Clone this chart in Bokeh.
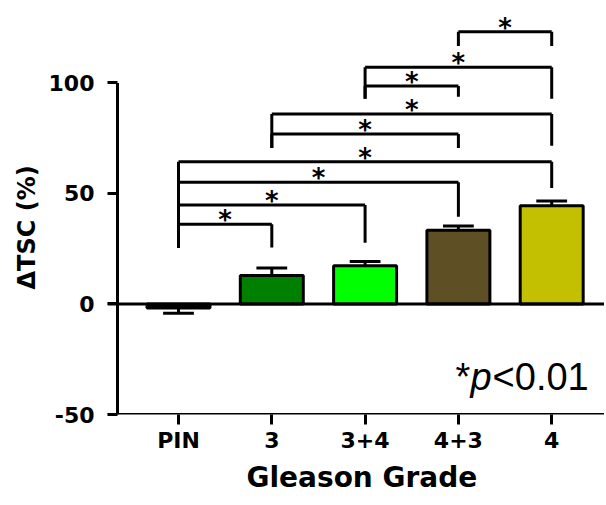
import numpy as np
from bokeh.plotting import figure
from bokeh.models import Range1d, FixedTicker, Span, Label, Title
from bokeh.core.properties import value
from bokeh.embed import file_html
from bokeh.resources import INLINE

# ---------------- data ----------------
categories = ["PIN", "3", "3+4", "4+3", "4"]
means = [-1.8, 12.9, 17.3, 33.4, 44.4]
sems = [2.4, 3.4, 1.9, 1.9, 2.2]
bar_colors = ["#000000", "#008000", "#00FF00", "#5F4F25", "#C2C000"]
y_ticks = [-50, 0, 50, 100]
y_tick_labels = ["-50", "0", "50", "100"]
x_title = "Gleason Grade"
y_title = "\u0394TSC (%)"

# significance brackets (category indices and heights in % units)
br_left = [0, 0, 0, 0, 1, 1, 2, 2, 3]
br_right = [1, 2, 3, 4, 3, 4, 3, 4, 4]
br_top = [36.1, 44.8, 55.1, 64.4, 76.9, 86.0, 98.6, 107.1, 123.2]
br_left_end = [25.3, 25.3, 25.3, 25.3, 70.6, 70.6, 92.8, 92.8, 116.7]
br_right_end = [25.5, 27.7, 39.5, 52.5, 70.6, 71.6, 93.8, 92.8, 116.7]
br_text = ["*"] * 9

# ---------------- layout ----------------
W, H = 604, 503
ML, MB = 107, 89
x_start, x_end = -0.761, 4.566
y_start, y_end = -50, 137.3

p = figure(width=W, height=H, x_range=Range1d(x_start, x_end), y_range=Range1d(y_start, y_end),
           output_backend="svg", toolbar_location=None,
           min_border_left=ML, min_border_right=0, min_border_top=0, min_border_bottom=MB)
p.outline_line_color = None
p.xgrid.visible = False
p.ygrid.visible = False
p.background_fill_color = "white"

xs = np.arange(len(categories), dtype=float)
m = np.array(means)
s = np.array(sems)
tips = m + np.sign(m) * s

BOLD = "DejaVu Sans"

# x axis
xa = p.xaxis[0]
xa.ticker = FixedTicker(ticks=list(xs))
xa.major_label_overrides = {i: c for i, c in enumerate(categories)}
xa.axis_line_color = None
xa.major_tick_line_width = 3
xa.major_tick_out = 10
xa.major_tick_in = 0
xa.minor_tick_line_color = None
xa.major_label_text_font = BOLD
xa.major_label_text_font_style = "bold"
xa.major_label_text_font_size = "22px"
xa.major_label_text_color = "black"
xa.major_label_standoff = 3
p.add_layout(Span(location=y_start, dimension="width", line_color="black", line_width=3))

# y axis (line drawn separately, ticks point into the frame like the original)
ya = p.yaxis[0]
ya.ticker = FixedTicker(ticks=y_ticks)
ya.major_label_overrides = {t: l for t, l in zip(y_ticks, y_tick_labels)}
ya.axis_line_color = None
ya.major_tick_line_width = 3
ya.major_tick_in = 10
ya.major_tick_out = 0
ya.minor_tick_line_color = None
ya.major_label_text_font = BOLD
ya.major_label_text_font_style = "bold"
ya.major_label_text_font_size = "22px"
ya.major_label_text_color = "black"
ya.major_label_standoff = 13

frame_w = W - ML
axis_x = x_start + 10 * (x_end - x_start) / frame_w
p.segment(x0=[axis_x], y0=[y_ticks[0]], x1=[axis_x], y1=[y_ticks[-1]], line_color="black", line_width=3)

# axis titles as side titles (off-centre like the original)
p.add_layout(Title(text=x_title, align="left", offset=139, vertical_align="top", standoff=10,
                   text_font=BOLD, text_font_style="bold", text_font_size="28px",
                   text_color="black"), "below")
p.add_layout(Title(text=y_title, align="left", offset=125, standoff=10,
                   text_font=BOLD, text_font_style="bold", text_font_size="24px",
                   text_color="black"), "left")

# bars
p.vbar(x=xs, top=m, bottom=0, width=0.675, fill_color=bar_colors, line_color="black", line_width=3)

# zero line
p.add_layout(Span(location=0, dimension="width", line_color="black", line_width=3))

# error bars (one-sided)
p.segment(x0=xs, y0=m, x1=xs, y1=tips, line_color="black", line_width=3)
p.segment(x0=xs - 0.165, y0=tips, x1=xs + 0.165, y1=tips, line_color="black", line_width=3)

# brackets
bl = np.array(br_left, dtype=float)
brr = np.array(br_right, dtype=float)
bt = np.array(br_top)
p.segment(x0=bl, y0=bt, x1=brr, y1=bt, line_color="black", line_width=3)
p.segment(x0=bl, y0=bt, x1=bl, y1=np.array(br_left_end), line_color="black", line_width=3)
p.segment(x0=brr, y0=bt, x1=brr, y1=np.array(br_right_end), line_color="black", line_width=3)
p.text(x=(bl + brr) / 2, y=bt, text=br_text, text_font=value(BOLD), text_font_style="bold",
       text_font_size="26px", text_align="center", text_baseline="alphabetic", y_offset=-4,
       text_color="black")

# p-value note
note_x, note_y = 2.97, -33.0
for txt, dx, style in [("*", 0, "normal"), ("p", 15, "italic"), ("<0.01", 37, "normal")]:
    p.add_layout(Label(x=note_x, y=note_y, text=txt, x_offset=dx, text_font="Liberation Sans",
                       text_font_style=style, text_font_size="38px", text_baseline="alphabetic",
                       text_align="left", text_color="black"))

open("out.html", "w").write(file_html(p, INLINE))
